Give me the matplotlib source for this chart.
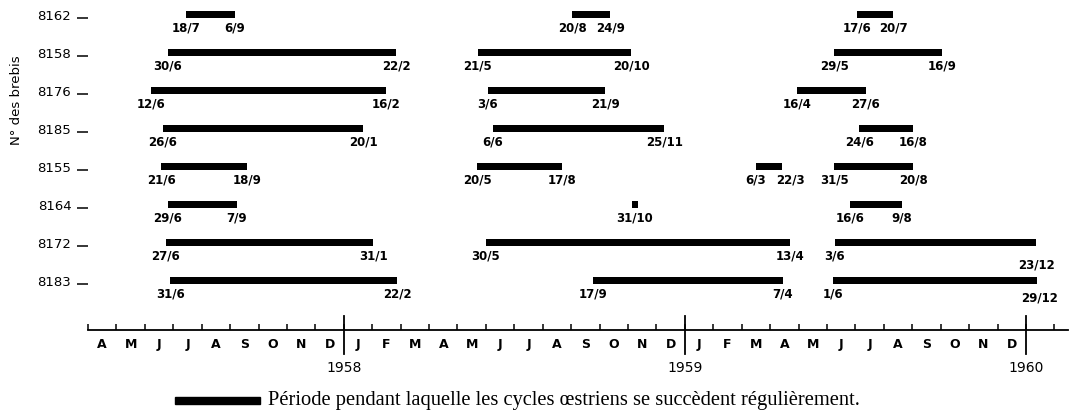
import matplotlib.pyplot as plt
from matplotlib.patches import Rectangle
from matplotlib.transforms import ScaledTranslation

# month units: 0 = 1 April 1957, 9 = 1 Jan 1958, 21 = 1 Jan 1959, 33 = 1 Jan 1960
sheep = ["8162", "8158", "8176", "8185", "8155", "8164", "8172", "8183"]

starts = [
    [3.45, 17.03, 27.06],
    [2.81, 13.72, 26.25],
    [2.22, 14.07, 24.95],
    [2.64, 14.25, 27.13],
    [2.57, 13.69, 23.50, 26.25],
    [2.81, 19.14, 26.81],
    [2.74, 14.00, 26.28],
    [2.89, 17.77, 26.21],
]
ends = [
    [5.17, 18.37, 28.33],
    [10.84, 19.11, 30.05],
    [10.49, 18.19, 27.37],
    [9.68, 20.27, 29.03],
    [5.59, 16.68, 24.42, 29.03],
    [5.24, 19.35, 28.64],
    [10.03, 24.70, 33.36],
    [10.87, 24.45, 33.39],
]
start_labels = [
    ["18/7", "20/8", "17/6"],
    ["30/6", "21/5", "29/5"],
    ["12/6", "3/6", "16/4"],
    ["26/6", "6/6", "24/6"],
    ["21/6", "20/5", "6/3", "31/5"],
    ["29/6", "31/10", "16/6"],
    ["27/6", "30/5", "3/6"],
    ["31/6", "17/9", "1/6"],
]
end_labels = [
    ["6/9", "24/9", "20/7"],
    ["22/2", "20/10", "16/9"],
    ["16/2", "21/9", "27/6"],
    ["20/1", "25/11", "16/8"],
    ["18/9", "17/8", "22/3", "20/8"],
    ["7/9", "", "9/8"],
    ["31/1", "13/4", "23/12"],
    ["22/2", "7/4", "29/12"],
]
month_letters = list("AMJJASONDJFMAMJJASOND" + "JFMAMJJASOND")
years = ["1958", "1959", "1960"]
year_pos = [9, 21, 33]

W, H = 1072, 420
fig = plt.figure(figsize=(W / 100, H / 100), dpi=100)
ax = fig.add_axes([88 / W, (H - 330) / H, 980 / W, 330 / H])
ax.set_xlim(0, 34.48)
ax.set_ylim(330, 0)

rows = [14.5 + 38.0 * i for i in range(len(sheep))]
lab_font = dict(family="DejaVu Sans", fontsize=8.5, fontweight="bold")
# a few end labels sit off their usual spot in the original (dx months, dy px)
end_nudge = {(4, 2): (0.3, 0), (6, 2): (0, 9), (7, 2): (0.1, 4)}

for i, y in enumerate(rows):
    for j, (s, e, ls, le) in enumerate(zip(starts[i], ends[i], start_labels[i], end_labels[i])):
        ax.barh(y, e - s, left=s, height=7, color="black")
        if le:
            dx, dy = end_nudge.get((i, j), (0, 0))
            ax.text(s, y + 13.5, ls, ha="center", va="center", **lab_font)
            ax.text(e + dx, y + 13.5 + dy, le, ha="center", va="center", **lab_font)
        else:
            ax.text((s + e) / 2, y + 13.5, ls, ha="center", va="center", **lab_font)

for sp in ["top", "right", "left"]:
    ax.spines[sp].set_visible(False)
ax.spines["bottom"].set_linewidth(1.3)

ax.set_xticks(range(0, 35))
ax.set_xticklabels([])
ax.tick_params(axis="x", which="major", direction="in", length=4.5, width=1.1)
ax.set_xticks([m + 0.5 for m in range(len(month_letters))], minor=True)
ax.set_xticklabels(month_letters, minor=True, fontsize=9, fontweight="bold")
ax.tick_params(axis="x", which="minor", length=0, pad=6)

ax.set_yticks([y + 3 for y in rows])
ax.set_yticklabels(sheep, fontsize=9.5)
ax.tick_params(axis="y", direction="out", length=8, width=1.1, pad=4)
for lab in ax.get_yticklabels():
    lab.set_transform(lab.get_transform() + ScaledTranslation(0, 0.03, fig.dpi_scale_trans))

for x, yr in zip(year_pos, years):
    ax.plot([x, x], [316, 354], color="black", lw=1.3, clip_on=False)
    ax.text(x, 368, yr, ha="center", va="center", fontsize=10)

fig.text(17 / W, 1 - 100 / H, "N° des brebis", rotation=90, ha="center", va="center", fontsize=9.5)

fig.patches.append(Rectangle((175 / W, (H - 403.5) / H), 85 / W, 7 / H,
                             transform=fig.transFigure, color="black"))
fig.text(268 / W, (H - 400) / H, "Période pendant laquelle les cycles œstriens se succèdent régulièrement.",
         ha="left", va="center", family="Liberation Serif", fontsize=14.8)

fig.savefig("out.png", dpi=100)
